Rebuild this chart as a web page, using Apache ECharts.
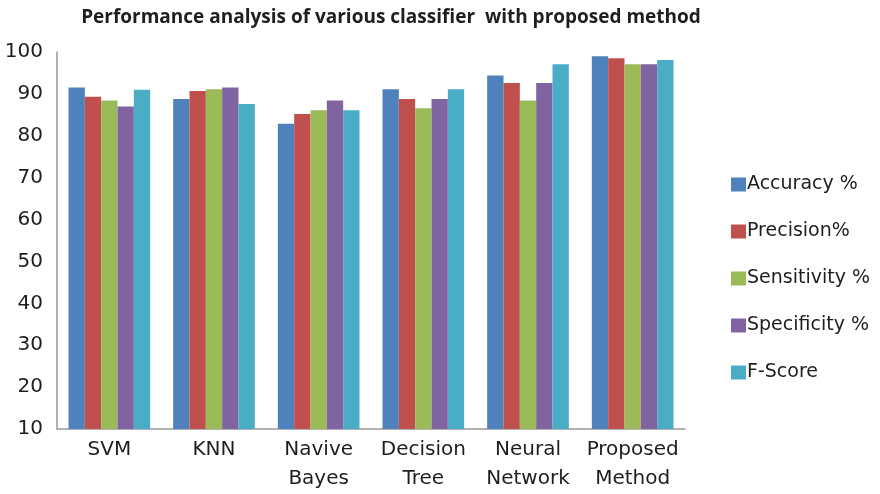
<!DOCTYPE html>
<html>
<head>
<meta charset="utf-8">
<script src="https://cdn.jsdelivr.net/npm/echarts@6/dist/echarts.min.js"></script>
<style>
  html, body { margin: 0; padding: 0; background: #fff; }
  #chart { width: 880px; height: 494px; }
</style>
</head>
<body>
<div id="chart"></div>
<script>
// Classifier names shown on the x axis
const categories = ['SVM', 'KNN', 'Navive\nBayes', 'Decision\nTree', 'Neural\nNetwork', 'Proposed\nMethod'];

// Metric series (percent)
const accuracy    = [91.5, 88.8, 82.9, 91.1, 94.4, 99.0];
const precision   = [89.3, 90.7, 85.2, 88.8, 92.6, 98.5];
const sensitivity = [88.4, 91.1, 86.1, 86.6, 88.4, 97.1];
const specificity = [87.0, 91.5, 88.4, 88.8, 92.6, 97.1];
const fScore      = [91.0, 87.6, 86.1, 91.1, 97.1, 98.1];

const seriesNames = ['Accuracy %', 'Precision%', 'Sensitivity %', 'Specificity %', 'F-Score'];
const seriesData = [accuracy, precision, sensitivity, specificity, fScore];
const colors = ['#4F81BD', '#C0504D', '#9BBB59', '#8064A2', '#4BACC6'];

const FONT = 'DejaVu Sans, sans-serif';
const TITLE_FONT = 'Open Sans, Liberation Sans, sans-serif';

const chart = echarts.init(document.getElementById('chart'));
chart.setOption({
  animation: false,
  color: colors,
  title: {
    text: 'Performance analysis of various classifier  with proposed method',
    left: 386,
    textAlign: 'center',
    top: 3,
    textStyle: { fontFamily: TITLE_FONT, fontSize: 19, fontWeight: 'bold', color: '#1e1e1e' }
  },
  legend: {
    orient: 'vertical',
    left: 726,
    top: 170,
    itemGap: 28,
    itemWidth: 15,
    itemHeight: 14,
    icon: 'rect',
    textStyle: { fontFamily: FONT, fontSize: 19, color: '#1e1e1e', padding: [0, 0, 0, -4] },
    data: seriesNames
  },
  grid: { left: 57, right: 195, top: 52, bottom: 65, containLabel: false },
  xAxis: {
    type: 'category',
    data: categories,
    axisLine: { lineStyle: { color: '#999', width: 1.5 } },
    axisTick: { show: false },
    axisLabel: {
      fontFamily: FONT, fontSize: 20, color: '#1e1e1e',
      lineHeight: 29, margin: 6, interval: 0
    }
  },
  yAxis: {
    type: 'value',
    min: 10,
    max: 100,
    interval: 10,
    splitLine: { show: false },
    axisLine: { show: true, lineStyle: { color: '#999', width: 1.5 } },
    axisTick: { show: false },
    axisLabel: { fontFamily: FONT, fontSize: 20, color: '#1e1e1e', margin: 14 }
  },
  series: seriesData.map((d, i) => ({
    name: seriesNames[i],
    type: 'bar',
    data: d,
    barGap: '0%',
    barCategoryGap: '22%'
  }))
});
</script>
</body>
</html>
